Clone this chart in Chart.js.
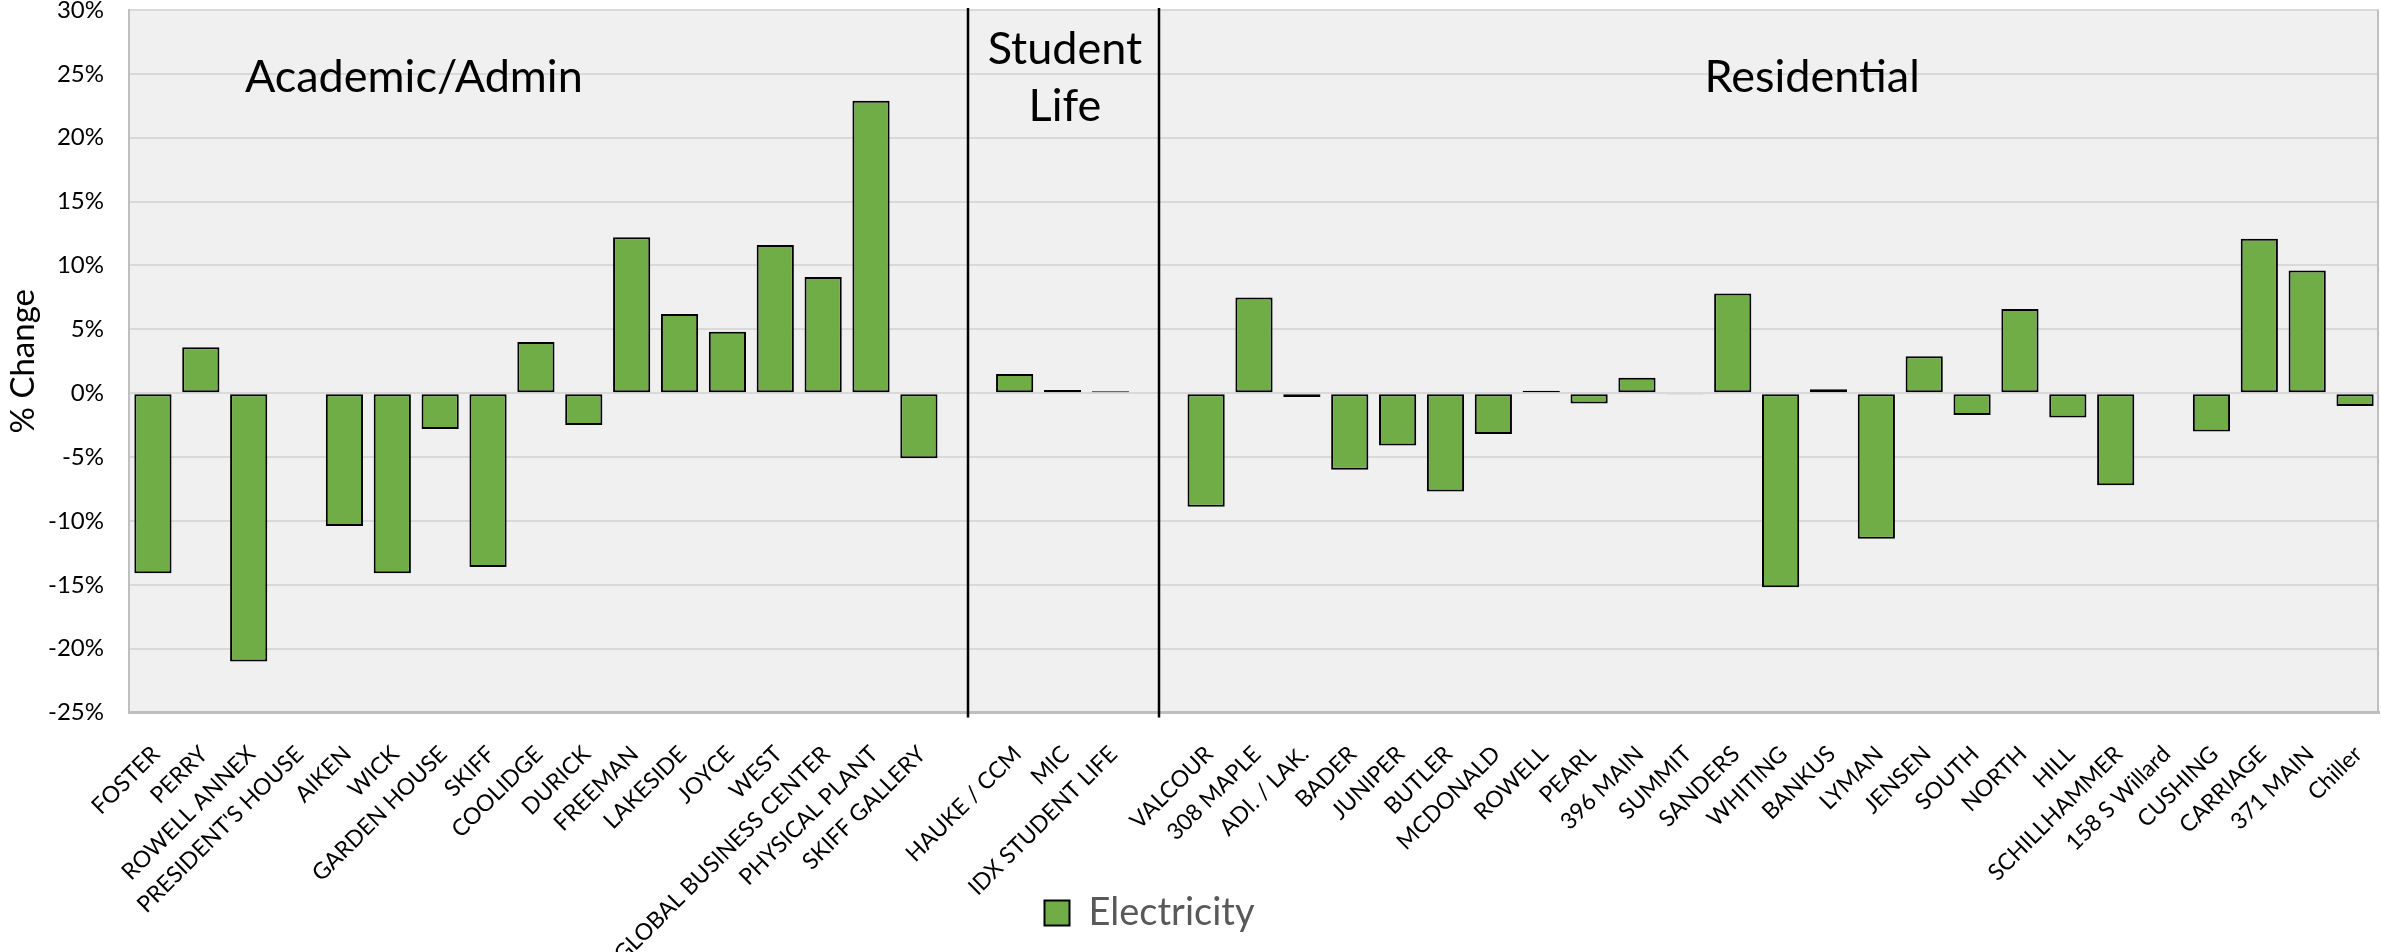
<!DOCTYPE html>
<html>
<head>
<meta charset="utf-8">
<title>Electricity % Change by Building</title>
<script src="https://cdn.jsdelivr.net/npm/chart.js@4/dist/chart.umd.min.js"></script>
<style>
  html, body { margin: 0; padding: 0; background: #ffffff; }
  #wrap { width: 2381px; height: 952px; position: relative; }
</style>
</head>
<body>
<div id="wrap"><canvas id="chart"></canvas></div>
<script>
// Buildings and their % change in electricity use, grouped by campus area
const academicBuildings = ['FOSTER', 'PERRY', 'ROWELL ANNEX', "PRESIDENT'S HOUSE", 'AIKEN', 'WICK',
  'GARDEN HOUSE', 'SKIFF', 'COOLIDGE', 'DURICK', 'FREEMAN', 'LAKESIDE', 'JOYCE', 'WEST',
  'GLOBAL BUSINESS CENTER', 'PHYSICAL PLANT', 'SKIFF GALLERY'];
const academicChange = [-14.1, 3.6, -21.0, null, -10.4, -14.1, -2.8, -13.6, 4.0, -2.5, 12.2, 6.2,
  4.8, 11.6, 9.1, 22.9, -5.1];

const studentLifeBuildings = ['HAUKE / CCM', 'MIC', 'IDX STUDENT LIFE'];
const studentLifeChange = [1.5, 0.25, 0.15];

const residentialBuildings = ['VALCOUR', '308 MAPLE', 'ADI. / LAK.', 'BADER', 'JUNIPER', 'BUTLER',
  'MCDONALD', 'ROWELL', 'PEARL', '396 MAIN', 'SUMMIT', 'SANDERS', 'WHITING', 'BANKUS', 'LYMAN',
  'JENSEN', 'SOUTH', 'NORTH', 'HILL', 'SCHILLHAMMER', '158 S Willard', 'CUSHING', 'CARRIAGE',
  '371 MAIN', 'Chiller'];
const residentialChange = [-8.9, 7.5, -0.3, -6.0, -4.1, -7.7, -3.2, 0.2, -0.8, 1.2, -0.07, 7.8,
  -15.2, 0.3, -11.4, 2.9, -1.7, 6.6, -1.9, -7.2, null, -3.0, 12.1, 9.6, -1.0];

const seriesName = 'Electricity';
const yMin = -25, yMax = 30, yStep = 5;

// One empty category separates each group; the divider lines sit on them
const labels = [...academicBuildings, '', ...studentLifeBuildings, '', ...residentialBuildings];
const values = [...academicChange, null, ...studentLifeChange, null, ...residentialChange];
const dividerIndexes = [academicBuildings.length, academicBuildings.length + 1 + studentLifeBuildings.length];

const FONT = "Lato, 'Open Sans', sans-serif";

// Light grey plot background plus the right-hand frame edge
const plotFrame = {
  id: 'plotFrame',
  beforeDraw(chart) {
    const { ctx, chartArea: a } = chart;
    ctx.save();
    ctx.fillStyle = '#f0f0f0';
    ctx.fillRect(a.left, a.top, a.right - a.left, a.bottom - a.top);
    ctx.restore();
  },
  afterDraw(chart) {
    const { ctx, chartArea: a } = chart;
    ctx.save();
    ctx.strokeStyle = '#bfbfbf';
    ctx.lineWidth = 2;
    ctx.beginPath();
    ctx.moveTo(a.right - 1, a.top);
    ctx.lineTo(a.right - 1, a.bottom);
    ctx.stroke();
    ctx.restore();
  }
};

// Vertical separators between the building groups and the group headings
const groupDecor = {
  id: 'groupDecor',
  afterDatasetsDraw(chart) {
    const { ctx, chartArea: a, scales: { x } } = chart;
    ctx.save();
    ctx.strokeStyle = '#000000';
    ctx.lineWidth = 2.5;
    dividerIndexes.forEach(i => {
      const px = Math.round(x.getPixelForValue(i)) + 1;
      ctx.beginPath();
      ctx.moveTo(px, a.top - 2);
      ctx.lineTo(px, a.bottom + 5);
      ctx.stroke();
    });

    ctx.fillStyle = '#000000';
    ctx.textAlign = 'center';
    ctx.textBaseline = 'alphabetic';
    ctx.font = `45px ${FONT}`;
    const headings = [
      { lines: ['Academic/Admin'], at: 5.45, base: a.top + 82 },
      { lines: ['Student', 'Life'], at: dividerIndexes[0] + 2.05, base: a.top + 54 },
      { lines: ['Residential'], at: 34.66, base: a.top + 82 }
    ];
    headings.forEach(h => {
      const px = x.getPixelForValue(h.at);
      h.lines.forEach((t, k) => ctx.fillText(t, px, h.base + k * 57));
    });
    ctx.restore();
  }
};

// Shift the legend so its single item sits left of the page centre
const legendShift = {
  id: 'legendShift',
  afterLayout(chart) {
    const lg = chart.legend;
    if (lg) { lg.left -= 40; lg.right -= 40; }
  }
};

new Chart(document.getElementById('chart'), {
  type: 'bar',
  data: {
    labels: labels,
    datasets: [{
      label: seriesName,
      data: values,
      backgroundColor: '#70ad47',
      borderColor: '#000000',
      borderWidth: 2,
      borderSkipped: false,
      categoryPercentage: 1,
      barPercentage: 0.777
    }]
  },
  options: {
    responsive: true,
    maintainAspectRatio: false,
    animation: false,
    layout: { padding: { top: 10, right: 2, left: 0, bottom: 10 } },
    plugins: {
      tooltip: { enabled: false },
      legend: {
        position: 'bottom',
        labels: {
          boxWidth: 25,
          boxHeight: 25,
          padding: 10,
          color: '#595959',
          font: { family: FONT, size: 38 }
        }
      }
    },
    scales: {
      x: {
        grid: { display: false },
        border: { display: true, color: '#bfbfbf', width: 3 },
        ticks: {
          autoSkip: false,
          minRotation: 45,
          maxRotation: 45,
          padding: 20,
          labelOffset: 3,
          color: '#000000',
          font: { family: FONT, size: 23 }
        },
        afterFit(scale) {
          scale.height = 171.5;
          scale.paddingLeft = 0;
          scale.paddingRight = 0;
          // long rotated names run down past the axis box, so keep them unclipped
          scale._computeLabelArea = () => undefined;
        }
      },
      y: {
        min: yMin,
        max: yMax,
        grid: { color: '#d9d9d9', lineWidth: 2, drawTicks: false },
        border: { display: true, color: '#bfbfbf', width: 2 },
        ticks: {
          stepSize: yStep,
          padding: 25,
          color: '#000000',
          font: { family: FONT, size: 24 },
          callback: v => v + '%'
        },
        title: {
          display: true,
          text: '% Change',
          color: '#000000',
          padding: { top: 4, bottom: 0 },
          font: { family: FONT, size: 33 }
        },
        afterFit(scale) {
          scale.width = 129;
          scale.paddingTop = 0;
          scale.paddingBottom = 0;
        }
      }
    }
  },
  plugins: [plotFrame, groupDecor, legendShift]
});
</script>
</body>
</html>
